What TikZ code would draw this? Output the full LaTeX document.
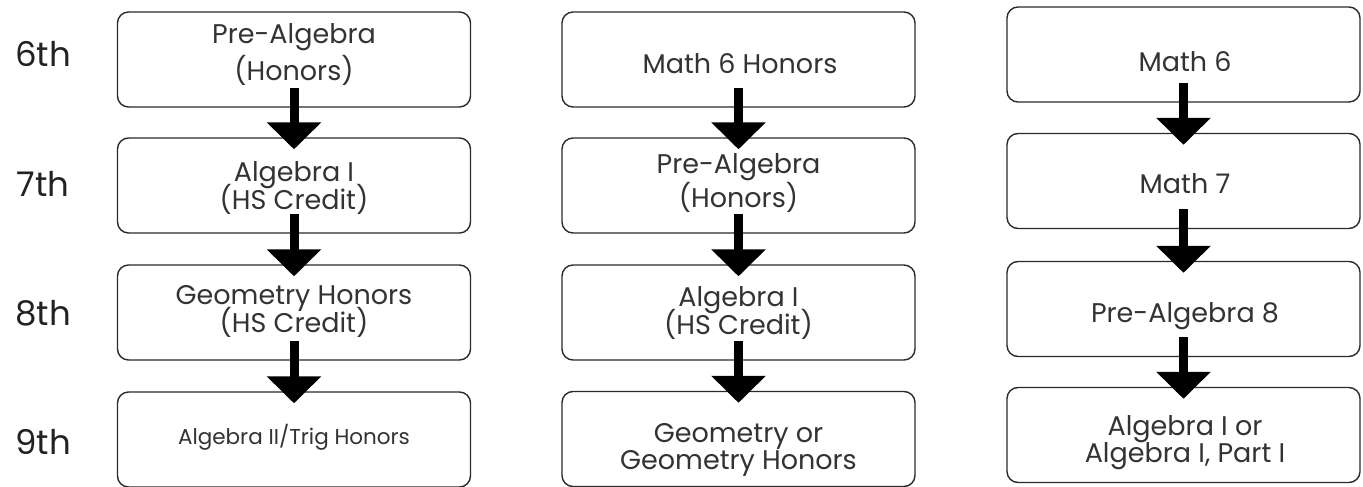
\documentclass[tikz,border=0pt]{standalone}
\usepackage{fontspec}
\setmainfont{Poppins}
\usetikzlibrary{arrows.meta}
\definecolor{txt}{HTML}{333333}
\definecolor{gtxt}{HTML}{222222}
\definecolor{edge}{HTML}{2A2A2A}
\begin{document}
\begin{tikzpicture}[x=1pt,y=-1pt,
  box/.style={draw=edge,line width=1.4pt,rounded corners=11pt,fill=white,
    minimum width=353pt,minimum height=95pt,inner sep=0pt},
  lbl/.style={anchor=base,inner sep=0pt,text=txt,font=\fontsize{27}{29}\selectfont},
  small/.style={lbl,font=\fontsize{21.5}{23}\selectfont},
  grade/.style={anchor=base,text=gtxt,font=\fontsize{34}{36}\selectfont,inner sep=0pt},
  arr/.style={line width=9pt,-{Triangle[length=27pt,width=53pt]},black}]
\useasboundingbox (0,0) rectangle (1363,487);
% grade labels
\node[grade] (g6) at (43,66.5) {6th};
\node[grade] (g7) at (43,196.5) {7th};
\node[grade] (g8) at (43,325) {8th};
\node[grade] (g9) at (43,454) {9th};
% boxes
\node[box] (a1) at (294,59.5) {};
\node[box] (a2) at (294,185.5) {};
\node[box] (a3) at (294,312.5) {};
\node[box] (a4) at (294,439.5) {};
\node[box] (b1) at (738.5,59.5) {};
\node[box] (b2) at (738.5,185.5) {};
\node[box] (b3) at (738.5,312.5) {};
\node[box] (b4) at (738.5,439) {};
\node[box] (c1) at (1183.5,54.5) {};
\node[box] (c2) at (1183.5,181) {};
\node[box] (c3) at (1183.5,309) {};
\node[box] (c4) at (1183.5,435) {};
% column 1 texts
\node[lbl] (a1t1) at (294,44) {Pre-Algebra};
\node[lbl] (a1t2) at (294,81) {(Honors)};
\node[lbl] (a2t1) at (294,181) {Algebra I};
\node[lbl] (a2t2) at (294,209) {(HS Credit)};
\node[lbl] (a3t1) at (294,304) {Geometry Honors};
\node[lbl] (a3t2) at (294,332) {(HS Credit)};
\node[small] (a4t1) at (294,444) {Algebra II/Trig Honors};
% column 2 texts
\node[lbl] (b1t1) at (740,74) {Math 6 Honors};
\node[lbl] (b2t1) at (738.5,173) {Pre-Algebra};
\node[lbl] (b2t2) at (738.5,207) {(Honors)};
\node[lbl] (b3t1) at (738.5,306) {Algebra I};
\node[lbl] (b3t2) at (738.5,334) {(HS Credit)};
\node[lbl] (b4t1) at (738.5,442) {Geometry or};
\node[lbl] (b4t2) at (738.5,469) {Geometry Honors};
% column 3 texts
\node[lbl] (c1t1) at (1185,71) {Math 6};
\node[lbl] (c2t1) at (1185,193) {Math 7};
\node[lbl] (c3t1) at (1185,322) {Pre-Algebra 8};
\node[lbl] (c4t1) at (1185,435) {Algebra I or};
\node[lbl] (c4t2) at (1185,462) {Algebra I, Part I};
% arrows
\foreach \c in {a,b,c}{
  \draw[arr] ([yshift=20pt]\c1.south) -- ([yshift=-12pt]\c2.north);
  \draw[arr] ([yshift=20pt]\c2.south) -- ([yshift=-12pt]\c3.north);
  \draw[arr] ([yshift=20pt]\c3.south) -- ([yshift=-12pt]\c4.north);
}
\end{tikzpicture}
\end{document}
